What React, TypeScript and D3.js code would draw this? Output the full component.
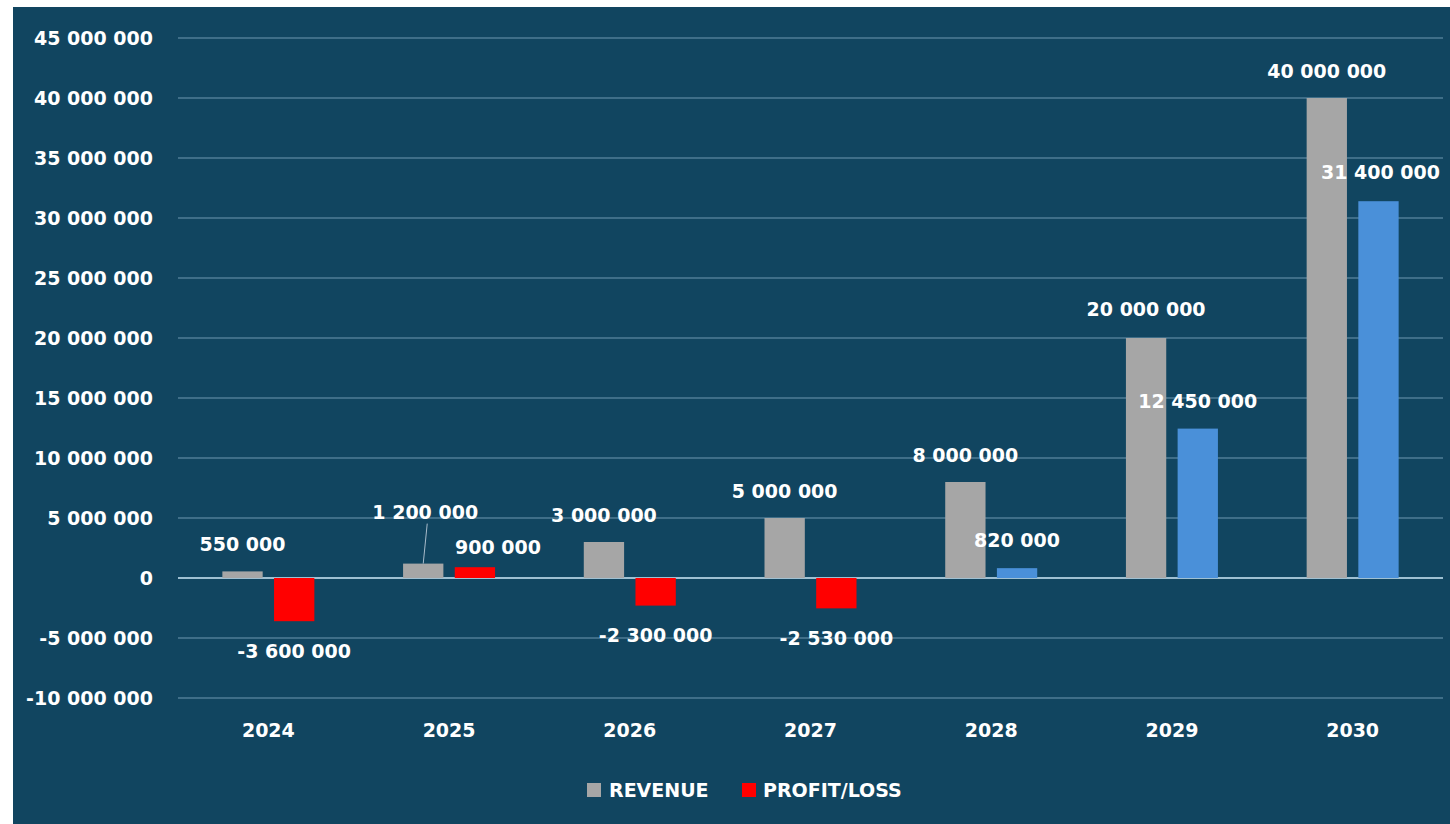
import React from "react";
import * as d3 from "d3";

const years = ["2024", "2025", "2026", "2027", "2028", "2029", "2030"];
const revenue = [550000, 1200000, 3000000, 5000000, 8000000, 20000000, 40000000];
const profitLoss = [-3600000, 900000, -2300000, -2530000, 820000, 12450000, 31400000];
const yTicks = [45000000, 40000000, 35000000, 30000000, 25000000, 20000000, 15000000, 10000000, 5000000, 0, -5000000, -10000000];
const seriesNames = ["REVENUE", "PROFIT/LOSS"];

const W = 1450;
const H = 824;
const BG = "#114560";
const GRID = "#4f7d96";
const GRAY = "#a6a6a6";
const RED = "#ff0000";
const BLUE = "#4a90d9";
const FONT = "'DejaVu Sans', sans-serif";

// manual label nudges (pixels) like Excel's moved labels
const revNudge: [number, number][] = [[0, 0], [2, -24], [0, 0], [0, 0], [0, 0], [0, -2], [0, 0]];
const profNudge: [number, number][] = [[0, 0], [23, 7], [0, 0], [0, 0], [0, -1], [0, 0], [2, -2]];

const fmt = (v: number) => {
  const s = Math.abs(v).toString().replace(/\B(?=(\d{3})+(?!\d))/g, " ");
  return (v < 0 ? "-" : "") + s;
};

export default function App() {
  const left = 178, right = 1443;
  const y = d3.scaleLinear().domain([-10000000, 45000000]).range([698, 38]);
  const x0 = d3.scaleBand<string>().domain(years).range([left, right]).padding(0);
  const bw0 = x0.bandwidth();
  const x1 = d3.scaleBand<string>().domain(seriesNames).range([bw0 / 2 - 46, bw0 / 2 + 46]).paddingInner(0.22);
  const bw = x1.bandwidth();
  const y0 = y(0);
  const profitColor = (i: number) => (i < 4 ? RED : BLUE);

  const textStyle: React.CSSProperties = { fontFamily: FONT, fontWeight: "bold", fontSize: 19, fill: "#ffffff" };

  return (
    <svg width={W} height={H} style={{ position: "absolute", left: 0, top: 0 }}>
      <rect x={0} y={0} width={W} height={H} fill="#ffffff" />
      <rect x={13} y={7} width={W - 13} height={H - 7} fill={BG} />
      {yTicks.map((t) => (
        <g key={t}>
          <line x1={left} x2={right} y1={y(t)} y2={y(t)} stroke={t === 0 ? "#9fc0d2" : GRID} strokeWidth={t === 0 ? 2 : 1.5} />
          <text x={153} y={y(t)} dy="0.36em" textAnchor="end" style={textStyle}>{fmt(t)}</text>
        </g>
      ))}
      {years.map((yr, i) => {
        const bx = x0(yr)!;
        const rx = bx + x1("REVENUE")!;
        const px = bx + x1("PROFIT/LOSS")!;
        const rv = revenue[i];
        const pv = profitLoss[i];
        const rTop = y(rv);
        const pTop = Math.min(y(pv), y0);
        const pH = Math.abs(y(pv) - y0);
        const rLabelY = rTop - 27 + revNudge[i][1];
        const rLabelX = rx + bw / 2 + revNudge[i][0];
        const pLabelX = px + bw / 2 + profNudge[i][0];
        const pLabelY = (pv >= 0 ? y(pv) - 27 : y(pv) + 30) + profNudge[i][1];
        return (
          <g key={yr}>
            <rect x={rx} y={rTop} width={bw} height={y0 - rTop} fill={GRAY} />
            <rect x={px} y={pTop} width={bw} height={pH} fill={profitColor(i)} />
            {revNudge[i][1] < -10 && (
              <line x1={rLabelX + 2} y1={rLabelY + 11} x2={rx + bw / 2} y2={rTop} stroke="#a9bccb" strokeWidth={1} />
            )}
            <text x={rLabelX} y={rLabelY} dy="0.36em" textAnchor="middle" style={textStyle}>{fmt(rv)}</text>
            <text x={pLabelX} y={pLabelY} dy="0.36em" textAnchor="middle" style={textStyle}>{fmt(pv)}</text>
            <text x={bx + bw0 / 2} y={730} dy="0.36em" textAnchor="middle" style={textStyle}>{yr}</text>
          </g>
        );
      })}
      <g>
        <rect x={587} y={783} width={14} height={14} fill={GRAY} />
        <text x={609} y={790} dy="0.36em" style={textStyle}>{seriesNames[0]}</text>
        <rect x={742} y={783} width={14} height={14} fill={RED} />
        <text x={763} y={790} dy="0.36em" style={textStyle}>{seriesNames[1]}</text>
      </g>
    </svg>
  );
}
